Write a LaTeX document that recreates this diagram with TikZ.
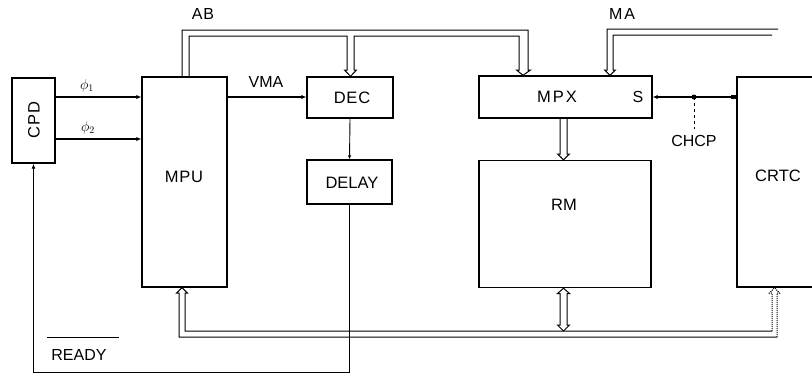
\documentclass[tikz,border=0pt]{standalone}
\usepackage{fontspec}
\setmainfont{Liberation Sans}
\newfontfamily\spacedfont[LetterSpace=12]{Liberation Sans}
\newfontfamily\semispacedfont[LetterSpace=5]{Liberation Sans}
\usetikzlibrary{arrows.meta,calc}
\begin{document}
\begin{tikzpicture}[x=1pt,y=-1pt,
  blk/.style={draw,line width=1.4pt,inner sep=0pt},
  lbl/.style={inner sep=0pt,font=\fontsize{16.5}{19}\selectfont},
  sml/.style={inner sep=0pt,font=\fontsize{16}{19}\selectfont},
  sig/.style={line width=1.7pt,-{Latex[length=5pt,width=4.5pt]}},
  thin/.style={line width=0.9pt},
  bus/.style={line width=1pt,line join=miter}]
\clip (0,0) rectangle (812,376);
\useasboundingbox (0,0) rectangle (812,376);
\fill[white] (0,0) rectangle (812,376);

% blocks
\node[blk,minimum width=43,minimum height=85] (cpd) at (33.5,120.5) {};
\node[lbl,rotate=90] (cpdt) at (34,120) {\semispacedfont CPD};
\node[blk,minimum width=85,minimum height=210] (mpu) at (184.5,182) {};
\node[lbl] (mput) at (184,177) {\semispacedfont MPU};
\node[blk,minimum width=86,minimum height=41] (dec) at (350,97.5) {};
\node[lbl] (dect) at (352,98) {\semispacedfont DEC};
\node[blk,minimum width=85,minimum height=44] (delay) at (349.5,182) {};
\node[lbl] (delayt) at (352,183) {DELAY};
\node[blk,minimum width=173,minimum height=42] (mpx) at (565.5,97) {};
\node[lbl] (mpxt) at (557,97) {\spacedfont MPX};
\node[sml] (s) at (638,97) {S};
\node[blk,minimum width=172,minimum height=127] (rm) at (565,224) {};
\node[lbl] (rmt) at (564,205) {RM};
\node[blk,minimum width=120,minimum height=210] (crtc) at (797,182) {};
\node[lbl] (crtct) at (778,176) {CRTC};

% labels
\node[sml] (ab) at (203,14) {\semispacedfont AB};
\node[sml] (ma) at (622,14) {\spacedfont MA};
\node[sml] (vma) at (266,82) {VMA};
\node[sml] (chcp) at (694,141) {CHCP};
\node[inner sep=0pt,font=\fontsize{14}{16}\selectfont] (p1) at (87,86) {$\phi_1$};
\node[inner sep=0pt,font=\fontsize{14}{16}\selectfont] (p2) at (88,128) {$\phi_2$};
\node[sml] (ready) at (79,355) {READY};
\draw[thin] (47,337) -- (119,337);

% signals
\draw[sig] (cpd.east |- 0,97) -- (mpu.west |- 0,97);
\draw[sig] (cpd.east |- 0,139) -- (mpu.west |- 0,139);
\draw[sig] (mpu.east |- 0,97) -- (dec.west |- 0,97);
\draw[thin,-{Latex[length=4pt,width=3.5pt]}] (dec.south) -- (delay.north);
\draw[thin,-{Latex[length=5pt,width=4pt]}] (delay.south) -- (delay.south |- 0,372) -| (cpd.south);
\draw[sig] (crtc.west |- 0,97) -- (mpx.east |- 0,97);
\fill (731,95) rectangle (737,99);
\coordinate (j) at (694,97);
\fill (j) circle (2.5);
\draw[thin,dashed] (j) -- (694,129);

% AB bus
\draw[bus] (182,0 |- mpu.north) -- (182,30) -- (528,30) -- (528,70) -- (530.5,70) -- (523,0 |- mpx.north);
\draw[bus] (189,0 |- mpu.north) -- (189,36) -- (347,36) -- (347,70) -- (344.5,70) -- (350.5,0 |- dec.north);
\draw[bus] (350.5,0 |- dec.north) -- (356.5,70) -- (354,70) -- (354,36) -- (519,36) -- (519,70) -- (516.5,70) -- (523,0 |- mpx.north);

% MA bus
\draw[bus] (778,29) -- (607,29) -- (607,70) -- (604.5,70) -- (610,0 |- mpx.north);
\draw[bus] (772,35) -- (613,35) -- (613,70) -- (615.5,70) -- (610,0 |- mpx.north);

% MPX -> RM
\draw[bus] (560,0 |- mpx.south) -- (560,154) -- (557.5,154) -- (563.5,0 |- rm.north);
\draw[bus] (567,0 |- mpx.south) -- (567,154) -- (569.5,154) -- (563.5,0 |- rm.north);

% data bus
\draw[bus] (182,0 |- mpu.south) -- (176.5,293) -- (179,293) -- (179,337) -- (777,337);
\draw[bus] (182,0 |- mpu.south) -- (187.5,293) -- (185,293) -- (185,331) -- (772,331);
\draw[bus] (563.5,0 |- rm.south) -- (557.5,293.5) -- (560,293.5) -- (560,325) -- (557.5,325) -- (563.5,331);
\draw[bus] (563.5,0 |- rm.south) -- (569.5,293.5) -- (567,293.5) -- (567,325) -- (569.5,325) -- (563.5,331);
\draw[bus,densely dotted] (777,337) -- (777,293) -- (779.5,293) -- (774.5,0 |- crtc.south);
\draw[bus,densely dotted] (772,331) -- (772,293) -- (769.5,293) -- (774.5,0 |- crtc.south);
\end{tikzpicture}
\end{document}
